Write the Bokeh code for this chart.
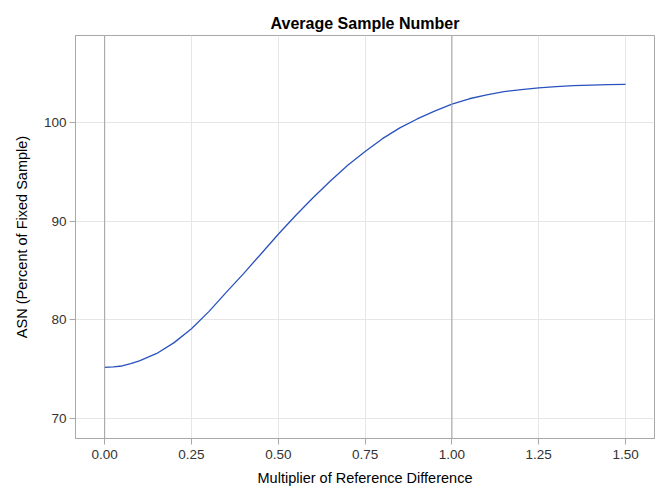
from bokeh.plotting import figure
from bokeh.models import Range1d, Span, FixedTicker, Title
from bokeh.embed import file_html
from bokeh.resources import INLINE

# Data
multiplier = [0.00, 0.025, 0.05, 0.075, 0.10, 0.15, 0.20, 0.25, 0.30, 0.35, 0.40, 0.45,
              0.50, 0.55, 0.60, 0.65, 0.70, 0.75, 0.80, 0.85, 0.90, 0.95,
              1.00, 1.05, 1.10, 1.15, 1.20, 1.25, 1.30, 1.35, 1.40, 1.45, 1.50]
asn = [75.18, 75.23, 75.33, 75.57, 75.85, 76.6, 77.7, 79.1, 80.85, 82.8, 84.7, 86.7,
       88.7, 90.6, 92.4, 94.1, 95.7, 97.1, 98.4, 99.5, 100.4, 101.2,
       101.9, 102.45, 102.85, 103.17, 103.38, 103.55, 103.68, 103.78, 103.84, 103.88, 103.9]
x_ticks = [0.0, 0.25, 0.5, 0.75, 1.0, 1.25, 1.5]
x_tick_labels = ["0.00", "0.25", "0.50", "0.75", "1.00", "1.25", "1.50"]
y_ticks = [70, 80, 90, 100]
ref_lines = [0.0, 1.0]

FONT = "Liberation Sans"
FRAME = "#A8A8A8"

p = figure(width=666, height=500, output_backend="svg", toolbar_location=None,
           x_range=Range1d(-0.084, 1.5834), y_range=Range1d(67.97, 108.87),
           min_border_left=75, min_border_right=12, min_border_top=35, min_border_bottom=62)

p.title = Title(text="Average Sample Number", align="center", text_font=FONT,
                text_font_size="16px", text_font_style="bold", text_color="#000000",
                standoff=7)

p.outline_line_color = FRAME
p.outline_line_width = 1

for ax in (p.xaxis[0], p.yaxis[0]):
    ax.axis_line_color = FRAME
    ax.major_tick_line_color = FRAME
    ax.major_tick_out = 6
    ax.major_tick_in = 0
    ax.minor_tick_line_color = None
    ax.major_label_text_font = FONT
    ax.major_label_text_font_size = "13.5px"
    ax.major_label_text_color = "#333333"
    ax.axis_label_text_font = FONT
    ax.axis_label_text_font_size = "14.5px"
    ax.axis_label_text_font_style = "normal"
    ax.axis_label_text_color = "#000000"

p.xaxis.ticker = FixedTicker(ticks=x_ticks)
p.xaxis.major_label_overrides = {t: l for t, l in zip(x_ticks, x_tick_labels)}
p.yaxis.ticker = FixedTicker(ticks=y_ticks)
p.xaxis.axis_label = "Multiplier of Reference Difference"
p.yaxis.axis_label = "ASN (Percent of Fixed Sample)"
p.xaxis.major_label_standoff = 5
p.xaxis.axis_label_standoff = 8
p.yaxis.major_label_standoff = 3
p.yaxis.axis_label_standoff = 11

p.xgrid.ticker = FixedTicker(ticks=x_ticks)
p.ygrid.ticker = FixedTicker(ticks=y_ticks)
p.grid.grid_line_color = "#E6E6E6"
p.grid.grid_line_width = 1

for xv in ref_lines:
    p.add_layout(Span(location=xv, dimension="height", line_color="#A0A0A0", line_width=1))

p.line(multiplier, asn, line_color="#2A52BE", line_width=1.3)

open("out.html", "w").write(file_html(p, INLINE))
